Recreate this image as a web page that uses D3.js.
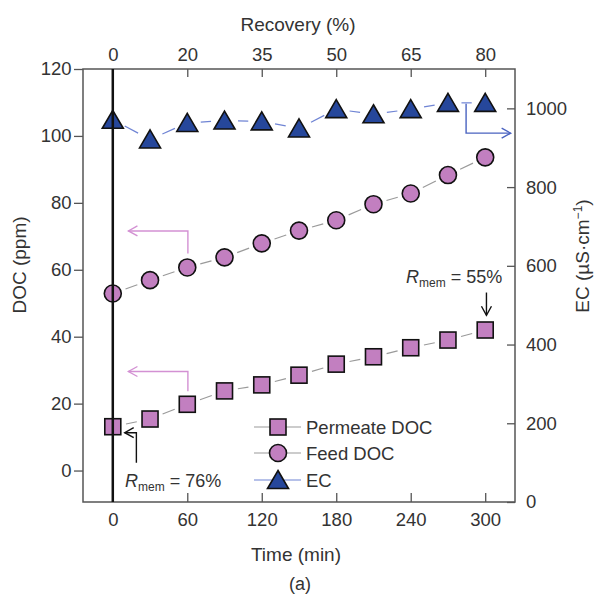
<!DOCTYPE html>
<html>
<head>
<meta charset="utf-8">
<script src="https://cdn.jsdelivr.net/npm/d3@7/dist/d3.min.js"></script>
<style>
  body { margin: 0; background: #fff; }
  text { font-family: "Liberation Sans", Arial, sans-serif; fill: #333; }
</style>
</head>
<body>
<script>
var times = [0, 30, 60, 90, 120, 150, 180, 210, 240, 270, 300];
var permeateDOC = [13.1, 15.4, 19.8, 23.8, 25.6, 28.5, 31.8, 34.0, 36.7, 39.0, 42.0];
var feedDOC = [52.9, 56.9, 60.7, 63.7, 67.9, 71.7, 74.8, 79.6, 82.8, 88.3, 93.6];
var ecValues = [971, 921, 963, 969, 967, 949, 998, 985, 998, 1014, 1014];

var timeTicks = [0, 60, 120, 180, 240, 300];
var recoveryLabels = ['0', '20', '35', '50', '65', '80'];
var docTicks = [0, 20, 40, 60, 80, 100, 120];
var ecTicks = [0, 200, 400, 600, 800, 1000];
var seriesNames = ['Permeate DOC', 'Feed DOC', 'EC'];

var width = 598, height = 596;
var pink = '#c27fc0', blue = '#26479b';

var svg = d3.select('body')
  .append('svg')
  .attr('width', width)
  .attr('height', height);

var x = d3.scaleLinear().domain([-24, 324]).range([83, 515]);
var yDoc = d3.scaleLinear().domain([-9.4, 120]).range([502, 69]);
var yEc = d3.scaleLinear().domain([0, 1100]).range([502, 69]);

function styleAxis(g) {
  g.select('.domain').remove();
  g.selectAll('line').attr('stroke', '#555').attr('stroke-width', 1.3);
  g.selectAll('text').attr('font-size', 18.5).attr('fill', '#333')
    .attr('font-family', '"Liberation Sans", Arial, sans-serif');
}

// axes
svg.append('g').attr('transform', 'translate(83,0)')
  .call(d3.axisLeft(yDoc).tickValues(docTicks).tickSize(9).tickPadding(2.5))
  .call(styleAxis);
svg.append('g').attr('transform', 'translate(515,0)')
  .call(d3.axisRight(yEc).tickValues(ecTicks).tickSize(-8).tickPadding(11)
    .tickFormat(d3.format('d')))
  .call(styleAxis);
svg.append('g').attr('transform', 'translate(0,502)')
  .call(d3.axisBottom(x).tickValues(timeTicks).tickSize(-9).tickPadding(11))
  .call(styleAxis);
svg.append('g').attr('transform', 'translate(0,69)')
  .call(d3.axisTop(x).tickValues(timeTicks).tickSize(-8).tickPadding(8)
    .tickFormat(function(d, i) { return recoveryLabels[i]; }))
  .call(styleAxis);

svg.append('rect')
  .attr('x', 83).attr('y', 69).attr('width', 432).attr('height', 433)
  .attr('fill', 'none').attr('stroke', '#555').attr('stroke-width', 1.5);

// axis titles
svg.append('text').attr('x', 298).attr('y', 31).attr('text-anchor', 'middle')
  .attr('font-size', 19).text('Recovery (%)');
svg.append('text').attr('x', 296).attr('y', 561).attr('text-anchor', 'middle')
  .attr('font-size', 19).text('Time (min)');
svg.append('text').attr('x', 300).attr('y', 590).attr('text-anchor', 'middle')
  .attr('font-size', 18).text('(a)');
svg.append('text').attr('transform', 'translate(26,265) rotate(-90)')
  .attr('text-anchor', 'middle').attr('font-size', 19).text('DOC (ppm)');
var ecTitle = svg.append('text').attr('transform', 'translate(589,256) rotate(-90)')
  .attr('text-anchor', 'middle').attr('font-size', 19);
ecTitle.append('tspan').text('EC (\u00b5S\u00b7cm');
ecTitle.append('tspan').attr('font-size', 12).attr('dy', -7).text('\u22121');
ecTitle.append('tspan').attr('dy', 7).text(')');

// connecting segments with gaps at the markers
function gapLines(values, yScale, color) {
  var pts = times.map(function(t, i) { return [x(t), yScale(values[i])]; });
  var segs = d3.pairs(pts).map(function(p) {
    var dx = p[1][0] - p[0][0], dy = p[1][1] - p[0][1];
    var len = Math.sqrt(dx * dx + dy * dy), g = 13.5;
    return [p[0][0] + dx * g / len, p[0][1] + dy * g / len,
            p[1][0] - dx * g / len, p[1][1] - dy * g / len];
  });
  svg.append('g').selectAll('line').data(segs).enter().append('line')
    .attr('x1', function(d) { return d[0]; }).attr('y1', function(d) { return d[1]; })
    .attr('x2', function(d) { return d[2]; }).attr('y2', function(d) { return d[3]; })
    .attr('stroke', color).attr('stroke-width', 1.2);
}
gapLines(permeateDOC, yDoc, '#9a9a9a');
gapLines(feedDOC, yDoc, '#9a9a9a');
gapLines(ecValues, yEc, '#6f84d4');

var triPath = 'M0,-9.5L10.5,8.5L-10.5,8.5Z';

svg.append('g').selectAll('rect').data(permeateDOC).enter().append('rect')
  .attr('x', function(d, i) { return x(times[i]) - 8; })
  .attr('y', function(d) { return yDoc(d) - 8; })
  .attr('width', 16).attr('height', 16)
  .attr('fill', pink).attr('stroke', '#111').attr('stroke-width', 1.6);

svg.append('g').selectAll('circle').data(feedDOC).enter().append('circle')
  .attr('cx', function(d, i) { return x(times[i]); })
  .attr('cy', function(d) { return yDoc(d); })
  .attr('r', 8.5)
  .attr('fill', pink).attr('stroke', '#111').attr('stroke-width', 1.6);

svg.append('g').selectAll('path').data(ecValues).enter().append('path')
  .attr('transform', function(d, i) { return 'translate(' + x(times[i]) + ',' + yEc(d) + ')'; })
  .attr('d', triPath)
  .attr('fill', blue).attr('stroke', '#111').attr('stroke-width', 1.6);

// vertical line at time zero
svg.append('line')
  .attr('x1', x(0)).attr('x2', x(0)).attr('y1', 69).attr('y2', 502)
  .attr('stroke', '#111').attr('stroke-width', 2.5);

// elbow arrows
function elbow(pts, color, dir) {
  svg.append('path')
    .attr('d', d3.line()(pts))
    .attr('fill', 'none').attr('stroke', color).attr('stroke-width', 1.4);
  var e = pts[pts.length - 1], h;
  if (dir === 'left') h = [[e[0] + 9, e[1] - 5], e, [e[0] + 9, e[1] + 5]];
  if (dir === 'right') h = [[e[0] - 9, e[1] - 5], e, [e[0] - 9, e[1] + 5]];
  if (dir === 'down') h = [[e[0] - 5, e[1] - 9], e, [e[0] + 5, e[1] - 9]];
  svg.append('path').attr('d', d3.line()(h))
    .attr('fill', 'none').attr('stroke', color).attr('stroke-width', 1.4);
}
elbow([[x(60.5), yDoc(feedDOC[2]) - 14], [x(60.5), yDoc(71.6)], [x(12.6), yDoc(71.6)]], '#d391d3', 'left');
elbow([[x(60.5), yDoc(permeateDOC[2]) - 13], [x(60.5), yDoc(29.6)], [x(12.6), yDoc(29.6)]], '#d391d3', 'left');
elbow([[x(284.6), yEc(1012)], [x(284.6), yEc(937)], [x(320.5), yEc(937)]], '#4a63c0', 'right');
elbow([[x(19), yDoc(2.3)], [x(19), yDoc(11.3)], [x(9.6), yDoc(11.3)]], '#111', 'left');
elbow([[x(301), yDoc(53.2)], [x(301), yDoc(46.4)]], '#111', 'down');

function rmem(tx, ty, val) {
  var t = svg.append('text').attr('x', tx).attr('y', ty).attr('font-size', 18);
  t.append('tspan').attr('font-style', 'italic').text('R');
  t.append('tspan').attr('font-size', 12).attr('dy', 4).text('mem');
  t.append('tspan').attr('dy', -4).text(' = ' + val);
}
rmem(125, 487, '76%');
rmem(406, 283, '55%');

// legend
var legY = [427, 453, 480];
var leg = svg.append('g');
seriesNames.forEach(function(name, i) {
  var yy = legY[i];
  leg.append('line').attr('x1', 254).attr('x2', 301).attr('y1', yy).attr('y2', yy)
    .attr('stroke', i < 2 ? '#9a9a9a' : '#6f84d4').attr('stroke-width', 1.2);
  if (i === 0) {
    leg.append('rect').attr('x', 270).attr('y', yy - 8).attr('width', 16).attr('height', 16)
      .attr('fill', pink).attr('stroke', '#111').attr('stroke-width', 1.6);
  } else if (i === 1) {
    leg.append('circle').attr('cx', 278).attr('cy', yy).attr('r', 8.5)
      .attr('fill', pink).attr('stroke', '#111').attr('stroke-width', 1.6);
  } else {
    leg.append('path').attr('transform', 'translate(278,' + yy + ')').attr('d', triPath)
      .attr('fill', blue).attr('stroke', '#111').attr('stroke-width', 1.6);
  }
  leg.append('text').attr('x', 306).attr('y', yy + 6.5).attr('font-size', 18.5).text(name);
});
</script>
</body>
</html>
